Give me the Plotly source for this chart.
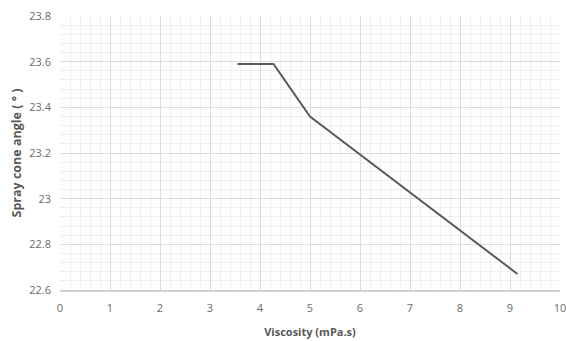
import plotly.graph_objects as go

viscosity = [3.55, 4.27, 5.0, 9.15]
cone_angle = [23.59, 23.59, 23.36, 22.67]
y_ticks = [22.6, 22.8, 23.0, 23.2, 23.4, 23.6, 23.8]
y_tick_labels = ["22.6", "22.8", "23", "23.2", "23.4", "23.6", "23.8"]
x_ticks = list(range(0, 11))

fig = go.Figure()
fig.add_trace(go.Scatter(x=viscosity, y=cone_angle, mode="lines",
                         line=dict(color="#5a5a5a", width=2), showlegend=False))

fig.update_layout(
    width=566, height=341,
    margin=dict(l=60, r=6, t=16, b=51, autoexpand=False),
    paper_bgcolor="white", plot_bgcolor="white",
    font=dict(family="Open Sans", color="#595959", size=10),
)
fig.update_xaxes(
    range=[0, 10], tickvals=x_ticks, ticks="", showline=True, linecolor="#d0d0d0", linewidth=1.5,
    showgrid=True, gridcolor="#dcdcdc", gridwidth=1, zeroline=False, automargin=False,
    minor=dict(dtick=0.2, showgrid=True, gridcolor="#efefef", gridwidth=1),
    title=dict(text="<b>Viscosity (mPa.s)</b>", font=dict(size=11, color="#595959"), standoff=14),
    tickfont=dict(size=11, color="#6a6a6a"), ticklabelstandoff=7, ticklabeloverflow="allow",
)
fig.update_yaxes(
    range=[22.6, 23.8], tickvals=y_ticks, ticktext=y_tick_labels, ticks="", showline=False,
    showgrid=True, gridcolor="#dcdcdc", gridwidth=1, zeroline=False, automargin=False,
    minor=dict(dtick=0.04, showgrid=True, gridcolor="#efefef", gridwidth=1),
    title=dict(text="<b>Spray cone angle ( ° )</b>", font=dict(size=12.5, color="#595959"), standoff=4),
    tickfont=dict(size=11, color="#6a6a6a"), ticklabelstandoff=8, ticklabeloverflow="allow",
)
fig.write_html("out.html")
